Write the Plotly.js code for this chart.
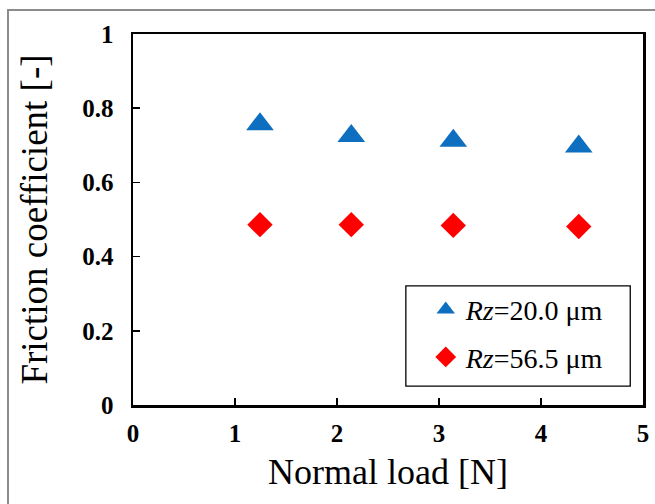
<!DOCTYPE html>
<html><head><meta charset="utf-8">
<script src="https://cdn.plot.ly/plotly-3.0.1.min.js"></script>
<style>
html,body{margin:0;padding:0;background:#fff;}
#wrap{position:relative;width:655px;height:504px;overflow:hidden;}
#chart{position:absolute;left:0;top:0;width:655px;height:504px;}
#frame{position:absolute;left:7px;top:9px;width:660px;height:510px;border:2px solid #8c8c8c;pointer-events:none;}
</style></head>
<body>
<div id="wrap"><div id="chart"></div><div id="frame"></div></div>
<script>
const loads = [1.245, 2.14, 3.14, 4.37];
const muRz20 = [0.757, 0.725, 0.712, 0.697];
const muRz56 = [0.486, 0.486, 0.484, 0.481];
const seriesNames = ['<i>Rz</i>=20.0 μm', '<i>Rz</i>=56.5 μm'];
const xTicks = [0, 1, 2, 3, 4, 5];
const yTicks = [0, 0.2, 0.4, 0.6, 0.8, 1];
const yTickText = ['0', '0.2', '0.4', '0.6', '0.8', '1'];

const serif = "'Liberation Serif', 'Times New Roman', serif";
const traces = [
  {x: loads, y: muRz20, name: seriesNames[0], mode: 'markers', type: 'scatter', legendgroup: 'a',
   marker: {symbol: 'triangle-up', size: 24, color: '#0e6fc0'}},
  {x: loads, y: muRz56, name: seriesNames[1], mode: 'markers', type: 'scatter', legendgroup: 'b',
   marker: {symbol: 'diamond', size: 19.5, color: '#ff0000'}}
];
const axisCommon = {
  showline: true, linecolor: '#000', linewidth: 2.5, mirror: true,
  ticks: 'inside', ticklen: 7, tickwidth: 1.5, tickcolor: '#000',
  showgrid: false, zeroline: false,
  tickfont: {family: serif, size: 25, color: '#000', weight: 'bold'}
};
// plot area: x 133..643 px, y 34..405 px
const layout = {
  width: 655, height: 504,
  margin: {l: 133, r: 12, t: 34, b: 99},
  paper_bgcolor: '#fff', plot_bgcolor: '#fff',
  showlegend: true,
  legend: {x: 0.574, y: 0.324, xanchor: 'left', yanchor: 'top',
    borderwidth: 0, bgcolor: 'rgba(0,0,0,0)',
    font: {family: serif, size: 28, color: '#000'}, tracegroupgap: 8},
  shapes: [{type: 'rect', xref: 'paper', yref: 'paper',
    x0: 0.535, x1: 0.975, y0: 0.051, y1: 0.321,
    line: {color: '#000', width: 1.3}, fillcolor: '#fff', layer: 'above'}],
  xaxis: Object.assign({}, axisCommon, {range: [0, 5], tickvals: xTicks, ticktext: xTicks.map(String),
    ticklabelstandoff: 4,
    title: {text: 'Normal load [N]', font: {family: serif, size: 36, color: '#000'}, standoff: 14}}),
  yaxis: Object.assign({}, axisCommon, {range: [0, 1], tickvals: yTicks, ticktext: yTickText,
    ticklabelstandoff: 12,
    title: {text: 'Friction coefficient [-]', font: {family: serif, size: 37, color: '#000'}, standoff: 24}})
};
Plotly.newPlot('chart', traces, layout, {displayModeBar: false, staticPlot: true});
</script>
</body></html>
